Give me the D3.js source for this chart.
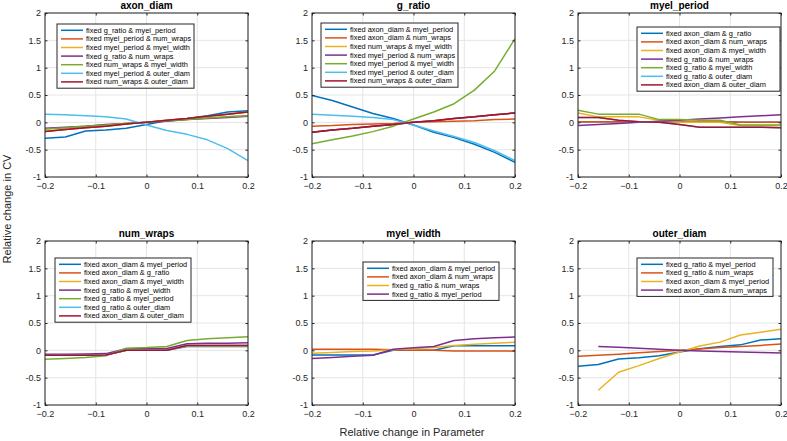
<!DOCTYPE html>
<html>
<head>
<meta charset="utf-8">
<script src="https://cdn.jsdelivr.net/npm/d3@7"></script>
<style>
  html, body { margin: 0; padding: 0; background: #fff; }
  svg { display: block; font-family: "Liberation Sans", Arial, Helvetica, sans-serif; }
</style>
</head>
<body>
<svg id="chart" width="787" height="441"></svg>
<script>
// ---------------- DATA ----------------
const xValues = [-0.2, -0.16, -0.12, -0.08, -0.04, 0, 0.04, 0.08, 0.12, 0.16, 0.2];
const xTicks = [-0.2, -0.1, 0, 0.1, 0.2];
const yTicks = [-1, -0.5, 0, 0.5, 1, 1.5, 2];
const yTickLabels = ["-1", "-0.5", "0", "0.5", "1", "1.5", "2"];
const seriesColors = ["#0072BD", "#D95319", "#EDB120", "#7E2F8E", "#77AC30", "#4DBEEE", "#A2142F"];

const axonDiamNames = [
  "fixed g_ratio & myel_period", "fixed myel_period & num_wraps", "fixed myel_period & myel_width",
  "fixed g_ratio & num_wraps", "fixed num_wraps & myel_width", "fixed myel_period & outer_diam",
  "fixed num_wraps & outer_diam"];
const axonDiamValues = [
  [-0.29, -0.27, -0.16, -0.14, -0.11, -0.04, 0.03, 0.07, 0.12, 0.19, 0.21],
  [-0.17, -0.13, -0.10, -0.07, -0.03, 0, 0.04, 0.07, 0.11, 0.15, 0.19],
  [-0.12, -0.10, -0.07, -0.05, -0.02, 0, 0.03, 0.05, 0.08, 0.10, 0.12],
  [-0.11, -0.09, -0.07, -0.04, -0.02, 0, 0.02, 0.05, 0.07, 0.09, 0.11],
  [-0.12, -0.10, -0.07, -0.05, -0.02, 0, 0.03, 0.05, 0.08, 0.10, 0.12],
  [0.15, 0.14, 0.12, 0.10, 0.06, -0.05, -0.15, -0.22, -0.32, -0.48, -0.70],
  [-0.17, -0.13, -0.10, -0.07, -0.03, 0, 0.04, 0.07, 0.11, 0.15, 0.19]];

const gRatioNames = [
  "fixed axon_diam & myel_period", "fixed axon_diam & num_wraps", "fixed num_wraps & myel_width",
  "fixed myel_period & num_wraps", "fixed myel_period & myel_width", "fixed myel_period & outer_diam",
  "fixed num_wraps & outer_diam"];
const gRatioValues = [
  [0.49, 0.40, 0.28, 0.16, 0.07, -0.05, -0.18, -0.28, -0.40, -0.55, -0.73],
  [-0.07, -0.06, -0.04, -0.03, -0.02, 0, 0.01, 0.02, 0.03, 0.05, 0.06],
  [-0.18, -0.14, -0.11, -0.07, -0.04, 0, 0.03, 0.07, 0.10, 0.14, 0.17],
  [-0.18, -0.14, -0.11, -0.07, -0.04, 0, 0.03, 0.07, 0.10, 0.14, 0.17],
  [-0.39, -0.32, -0.25, -0.17, -0.07, 0.06, 0.19, 0.34, 0.59, 0.94, 1.53],
  [0.15, 0.13, 0.11, 0.09, 0.05, -0.05, -0.16, -0.26, -0.37, -0.52, -0.70],
  [-0.18, -0.14, -0.11, -0.07, -0.04, 0, 0.03, 0.07, 0.10, 0.14, 0.17]];

const myelPeriodNames = [
  "fixed axon_diam & g_ratio", "fixed axon_diam & num_wraps", "fixed axon_diam & myel_width",
  "fixed g_ratio & num_wraps", "fixed g_ratio & myel_width", "fixed g_ratio & outer_diam",
  "fixed axon_diam & outer_diam"];
const myelPeriodValues = [
  [0.01, 0.01, 0.01, 0.01, 0.01, 0.01, 0.01, 0.01, 0.0, 0.0, 0.0],
  [0.01, 0.01, 0.01, 0.01, 0.01, 0.01, 0.01, 0.01, 0.0, 0.0, 0.0],
  [0.17, 0.10, 0.10, 0.10, 0.04, 0.0, 0.0, 0.0, -0.06, -0.06, -0.06],
  [-0.06, -0.04, -0.02, 0.0, 0.02, 0.04, 0.06, 0.08, 0.10, 0.12, 0.14],
  [0.22, 0.15, 0.15, 0.15, 0.05, 0.05, 0.04, 0.04, -0.05, -0.05, -0.05],
  [0.09, 0.09, 0.04, 0.01, 0.0, -0.04, -0.09, -0.09, -0.09, -0.09, -0.10],
  [0.09, 0.09, 0.04, 0.01, 0.0, -0.04, -0.09, -0.09, -0.09, -0.09, -0.10]];

const numWrapsNames = [
  "fixed axon_diam & myel_period", "fixed axon_diam & g_ratio", "fixed axon_diam & myel_width",
  "fixed g_ratio & myel_width", "fixed g_ratio & myel_period", "fixed g_ratio & outer_diam",
  "fixed axon_diam & outer_diam"];
const numWrapsValues = [
  [-0.08, -0.08, -0.08, -0.08, 0.0, 0.0, 0.0, 0.07, 0.07, 0.07, 0.07],
  [-0.09, -0.09, -0.09, -0.085, 0.0, 0.0, 0.0, 0.09, 0.09, 0.09, 0.09],
  [-0.08, -0.08, -0.08, -0.08, 0.0, 0.0, 0.0, 0.08, 0.08, 0.08, 0.08],
  [-0.07, -0.07, -0.065, -0.06, 0.03, 0.035, 0.035, 0.12, 0.13, 0.13, 0.14],
  [-0.165, -0.15, -0.13, -0.10, 0.04, 0.05, 0.07, 0.18, 0.21, 0.23, 0.25],
  [-0.09, -0.09, -0.09, -0.085, 0.0, 0.0, 0.0, 0.09, 0.09, 0.09, 0.09],
  [-0.09, -0.09, -0.09, -0.085, 0.0, 0.0, 0.0, 0.09, 0.09, 0.09, 0.09]];

const myelWidthNames = [
  "fixed axon_diam & myel_period", "fixed axon_diam & num_wraps",
  "fixed g_ratio & num_wraps", "fixed g_ratio & myel_period"];
const myelWidthValues = [
  [-0.085, -0.085, -0.085, -0.085, 0.0, 0.0, 0.0, 0.085, 0.085, 0.085, 0.085],
  [0.02, 0.02, 0.02, 0.02, 0.01, 0.0, 0.0, -0.01, -0.01, -0.01, -0.015],
  [-0.055, -0.04, -0.02, -0.01, 0.01, 0.03, 0.05, 0.09, 0.11, 0.13, 0.15],
  [-0.15, -0.13, -0.11, -0.09, 0.02, 0.045, 0.07, 0.18, 0.21, 0.23, 0.245]];

const outerDiamNames = [
  "fixed g_ratio & myel_period", "fixed g_ratio & num_wraps",
  "fixed axon_diam & myel_period", "fixed axon_diam & num_wraps"];
const outerDiamValues = [
  [-0.29, -0.26, -0.16, -0.135, -0.10, -0.03, 0.03, 0.07, 0.10, 0.19, 0.21],
  [-0.11, -0.09, -0.07, -0.045, -0.02, 0.0, 0.025, 0.05, 0.07, 0.09, 0.115],
  [null, -0.73, -0.40, -0.28, -0.15, -0.03, 0.08, 0.15, 0.28, 0.33, 0.385],
  [null, 0.07, 0.055, 0.04, 0.02, 0.0, -0.01, -0.02, -0.03, -0.04, -0.05]];

const panelTitles = ["axon_diam", "g_ratio", "myel_period", "num_wraps", "myel_width", "outer_diam"];
const panelNames = [axonDiamNames, gRatioNames, myelPeriodNames, numWrapsNames, myelWidthNames, outerDiamNames];
const panelValues = [axonDiamValues, gRatioValues, myelPeriodValues, numWrapsValues, myelWidthValues, outerDiamValues];

// ---------------- LAYOUT ----------------
const colX = [45, 312, 578];
const rowY = [13, 241];
const plotW = 203, plotH = 164;
// legend box (relative to plot origin): x, y, width
const legendPos = [
  [12, 11, 137], [9, 10, 137], [59, 14, 143],
  [10, 17, 136], [51, 21, 136], [59, 17, 136]];

const svg = d3.select("#chart");
const axisColor = "#262626";
const gridColor = "#e5e5e5";

panelTitles.forEach((title, p) => {
  const ox = colX[p % 3], oy = rowY[Math.floor(p / 3)];
  const g = svg.append("g").attr("transform", `translate(${ox},${oy})`);
  const x = d3.scaleLinear().domain([-0.2, 0.2]).range([0, plotW]);
  const y = d3.scaleLinear().domain([-1, 2]).range([plotH, 0]);

  // grid
  g.append("g").selectAll("line").data(xTicks).join("line")
    .attr("x1", d => x(d)).attr("x2", d => x(d)).attr("y1", 0).attr("y2", plotH)
    .attr("stroke", gridColor).attr("stroke-width", 1);
  g.append("g").selectAll("line").data(yTicks).join("line")
    .attr("y1", d => y(d)).attr("y2", d => y(d)).attr("x1", 0).attr("x2", plotW)
    .attr("stroke", gridColor).attr("stroke-width", 1);

  // series
  const clipId = "clip" + p;
  g.append("clipPath").attr("id", clipId).append("rect")
    .attr("x", 0).attr("y", 0).attr("width", plotW).attr("height", plotH);
  const line = d3.line().defined(d => d[1] !== null).x(d => x(d[0])).y(d => y(d[1]));
  const lines = g.append("g").attr("clip-path", `url(#${clipId})`);
  panelValues[p].forEach((vals, i) => {
    lines.append("path")
      .datum(xValues.map((xv, k) => [xv, vals[k]]))
      .attr("d", line)
      .attr("fill", "none")
      .attr("stroke", seriesColors[i])
      .attr("stroke-width", 1.5)
      .attr("stroke-linejoin", "round");
  });

  // axes
  const xAxis = d3.axisBottom(x).tickValues(xTicks).tickFormat(d => d === 0 ? "0" : d3.format(".1f")(d))
    .tickSizeInner(-2.5).tickSizeOuter(0).tickPadding(6);
  const xAxisTop = d3.axisTop(x).tickValues(xTicks).tickFormat("").tickSizeInner(-2.5).tickSizeOuter(0);
  const yAxis = d3.axisLeft(y).tickValues(yTicks).tickFormat((d, i) => yTickLabels[i])
    .tickSizeInner(-2.5).tickSizeOuter(0).tickPadding(4);
  const yAxisRight = d3.axisRight(y).tickValues(yTicks).tickFormat("").tickSizeInner(-2.5).tickSizeOuter(0);

  const styleAxis = sel => {
    sel.select(".domain").remove();
    sel.selectAll("line").attr("stroke", axisColor);
    sel.selectAll("text").attr("fill", axisColor).attr("font-size", 9)
      .attr("font-family", "'Liberation Sans', Arial, sans-serif");
  };
  g.append("g").attr("transform", `translate(0,${plotH})`).call(xAxis).call(styleAxis);
  g.append("g").call(xAxisTop).call(styleAxis);
  g.append("g").call(yAxis).call(styleAxis);
  g.append("g").attr("transform", `translate(${plotW},0)`).call(yAxisRight).call(styleAxis);

  g.append("rect").attr("x", 0).attr("y", 0).attr("width", plotW).attr("height", plotH)
    .attr("fill", "none").attr("stroke", axisColor).attr("stroke-width", 1);

  // title
  g.append("text").attr("x", plotW / 2).attr("y", -4).attr("text-anchor", "middle")
    .attr("font-size", 10).attr("font-weight", "bold").attr("fill", "#000").text(title);

  // legend
  const [lx, ly, lw] = legendPos[p];
  const names = panelNames[p];
  const rowH = 8.6;
  const lh = names.length * rowH + 4;
  const lg = g.append("g").attr("transform", `translate(${lx},${ly})`);
  lg.append("rect").attr("x", 0).attr("y", 0).attr("width", lw).attr("height", lh)
    .attr("fill", "#fff").attr("stroke", axisColor).attr("stroke-width", 1);
  names.forEach((nm, i) => {
    const cy = 2 + rowH * (i + 0.5);
    lg.append("line").attr("x1", 4).attr("x2", 26).attr("y1", cy).attr("y2", cy)
      .attr("stroke", seriesColors[i]).attr("stroke-width", 1.5);
    lg.append("text").attr("x", 29).attr("y", cy).attr("dy", "0.35em")
      .attr("font-size", 7.4).attr("fill", "#000").text(nm);
  });
});

// axis labels
svg.append("text").attr("x", 412).attr("y", 436).attr("text-anchor", "middle")
  .attr("font-size", 11).attr("fill", axisColor).text("Relative change in Parameter");
svg.append("text").attr("transform", "translate(11,209) rotate(-90)").attr("text-anchor", "middle")
  .attr("font-size", 11).attr("fill", axisColor).text("Relative change in CV");
</script>
</body>
</html>
